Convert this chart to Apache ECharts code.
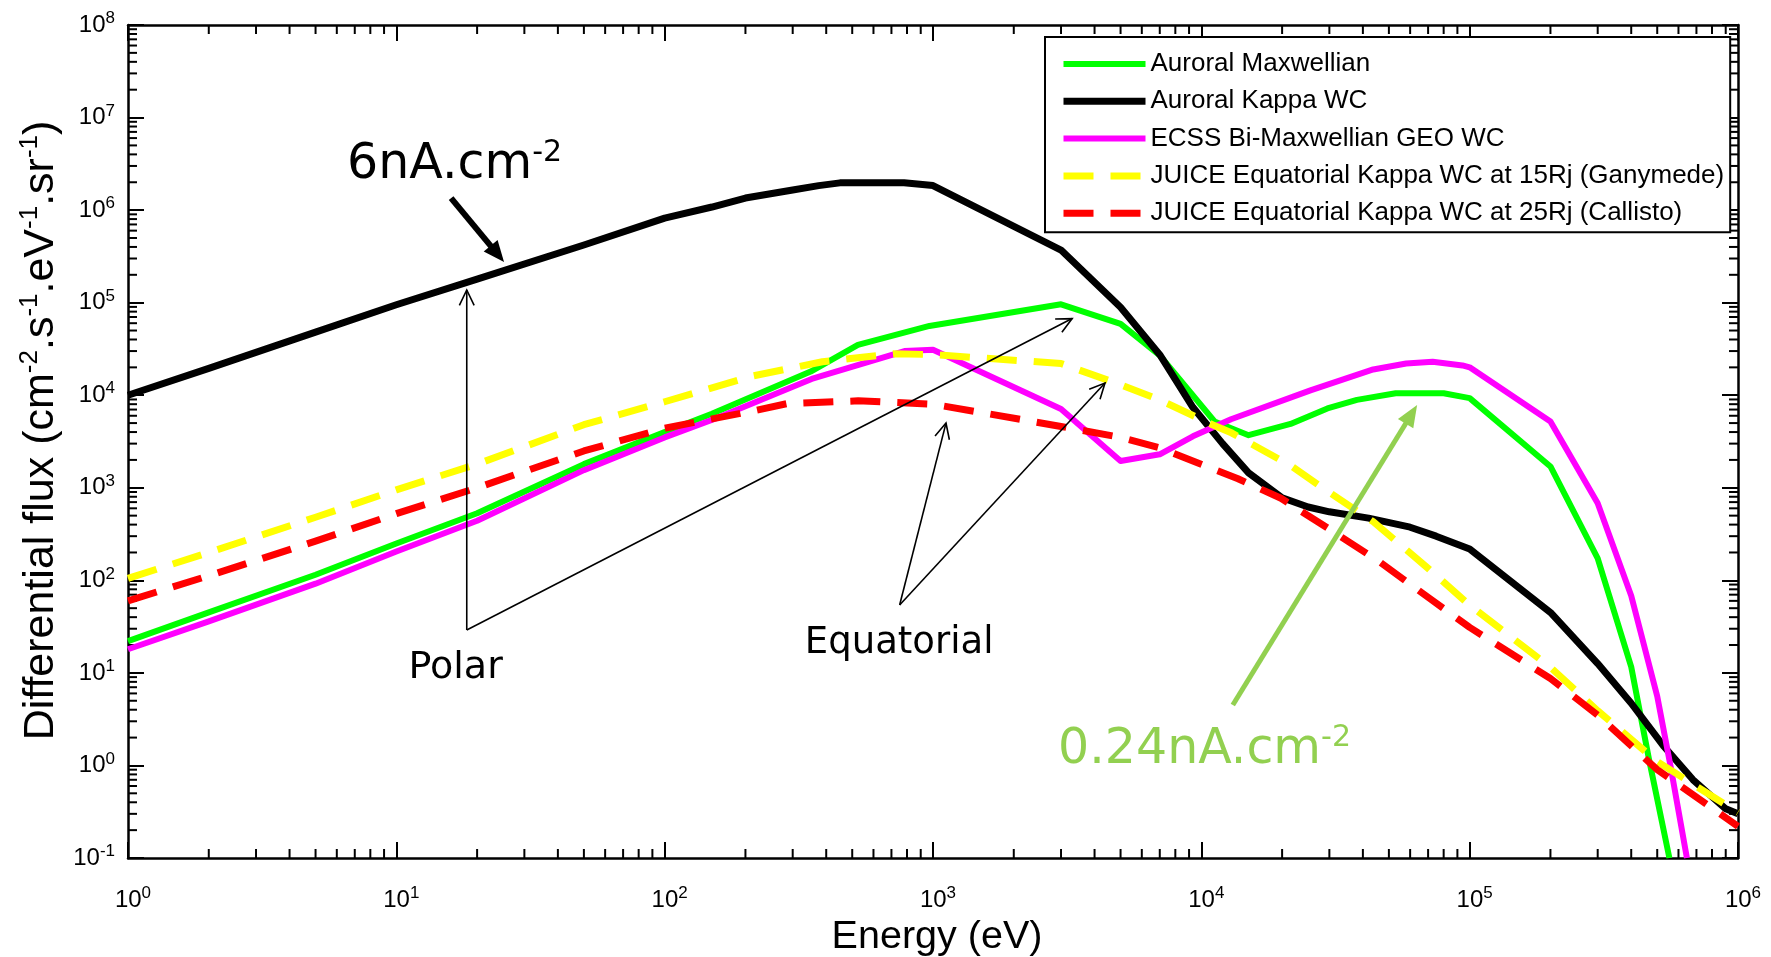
<!DOCTYPE html>
<html><head><meta charset="utf-8">
<script src="https://cdn.jsdelivr.net/npm/echarts@6/dist/echarts.min.js"></script>
<style>html,body{margin:0;padding:0;background:#fff}#c{width:1771px;height:957px}</style>
</head><body><div id="c"></div>
<script>
// ---------- data ----------
const seriesNames = [
  'Auroral Maxwellian',
  'Auroral Kappa WC',
  'ECSS Bi-Maxwellian GEO WC',
  'JUICE Equatorial Kappa WC at 15Rj (Ganymede)',
  'JUICE Equatorial Kappa WC at 25Rj (Callisto)'
];
const seriesColors = ['#00ff00', '#000000', '#ff00ff', '#ffff00', '#ff0000'];

const greenE = [1, 2, 5, 10, 20, 50, 100, 150, 350, 525, 970, 3000, 5000, 7000, 11200, 15000, 21500, 29500, 38000, 53000, 80000, 100000, 200000, 300000, 400000, 465000, 555000];
const greenF = [22, 45, 115, 250, 530, 1800, 4000, 6300, 18000, 35000, 56000, 96000, 59000, 27000, 5200, 3700, 4900, 7200, 8900, 10500, 10500, 9300, 1700, 173, 11.6, 1.2, 0.1];

const blackE = [1, 2, 5, 10, 20, 50, 100, 150, 200, 300, 375, 450, 600, 780, 1000, 3000, 5000, 7000, 9300, 12000, 15000, 20000, 25000, 30000, 42000, 60000, 75000, 100000, 200000, 300000, 400000, 530000, 680000, 900000, 1000000];
const blackF = [1.0e4, 1.95e4, 4.8e4, 9.5e4, 1.8e5, 4.2e5, 8.2e5, 1.08e6, 1.35e6, 1.65e6, 1.84e6, 1.97e6, 1.97e6, 1.97e6, 1.84e6, 3.7e5, 8.9e4, 2.74e4, 7400, 3000, 1450, 780, 620, 550, 470, 375, 300, 218, 45, 12.6, 4.7, 1.6, 0.7, 0.34, 0.3];

const magentaE = [1, 2, 5, 10, 20, 50, 100, 155, 353, 783, 1000, 3000, 5000, 7000, 9300, 12900, 25500, 43700, 58000, 72800, 94000, 100000, 200000, 300000, 400000, 500000, 560000, 645000];
const magentaF = [18, 36, 92, 205, 440, 1550, 3500, 5600, 15000, 30000, 31000, 7100, 1950, 2300, 3600, 5500, 11300, 19000, 22000, 23000, 21000, 20000, 5200, 680, 68, 5.6, 1, 0.1];

const yellowE = [1, 2, 5, 10, 20, 50, 100, 210, 387, 713, 1000, 3000, 5000, 7000, 11000, 13000, 21500, 30000, 43700, 70800, 100000, 200000, 300000, 500000, 1000000];
const yellowF = [105, 200, 480, 950, 1800, 4800, 8500, 16000, 23000, 28000, 27500, 22000, 13000, 8900, 4800, 3900, 1740, 890, 430, 131, 54, 11.5, 3.9, 1.1, 0.31];

const redE = [1, 2, 5, 10, 20, 50, 100, 210, 285, 526, 1000, 3000, 5000, 7000, 13700, 19800, 30000, 46200, 70800, 100000, 200000, 300000, 500000, 1000000];
const redF = [60, 112, 265, 525, 1000, 2500, 4400, 6700, 8100, 8700, 8000, 4600, 3500, 2700, 1250, 770, 357, 158, 64, 31, 8.7, 3.5, 0.9, 0.22];

// axis tick labels (powers of ten)
const xTickExponents = [0, 1, 2, 3, 4, 5, 6];
const yTickExponents = [-1, 0, 1, 2, 3, 4, 5, 6, 7, 8];

// annotation anchors in data coordinates [energy, flux]
const arrow6nA = [[16.0, 1.35e6], [25.2, 2.75e5]];
const polarVertex = [18.3, 29.1];
const polarTips = [[18.3, 1.37e5], [3300, 6.73e4]];
const eqVertex = [751, 54.2];
const eqTips = [[1118, 5.0e3], [4375, 1.355e4]];
const arrowGreen = [[13100, 4.5], [63700, 7.86e3]];
const text6nA = [6.55, 3.07e6];
const textPolar = [11.1, 11.2];
const textEq = [333, 20.7];
const text024 = [2924, 1.45];

// ---------- helpers ----------
const zip = (a, b) => a.map((v, i) => [v, b[i]]);
const xMin = Math.pow(10, xTickExponents[0]), xMax = Math.pow(10, xTickExponents[xTickExponents.length - 1]);
const yMin = Math.pow(10, yTickExponents[0]), yMax = Math.pow(10, yTickExponents[yTickExponents.length - 1]);
// minor (2..9 x decade) tick positions in data space
const minorXE = [], minorYF = [];
for (let d = xTickExponents[0]; d < xTickExponents[xTickExponents.length - 1]; d++)
  for (let k = 2; k <= 9; k++) minorXE.push(k * Math.pow(10, d));
for (let d = yTickExponents[0]; d < yTickExponents[yTickExponents.length - 1]; d++)
  for (let k = 2; k <= 9; k++) minorYF.push(+(k * Math.pow(10, d)).toPrecision(6));

const FONT = 'Liberation Sans';
const supFmt = v => '{b|10}{s|' + Math.round(Math.log10(v)) + '}';
const xRich = {
  b: {fontFamily: FONT, fontSize: 24, lineHeight: 30, color: '#000', padding: [0, 0, 0, 10]},
  s: {fontFamily: FONT, fontSize: 17, lineHeight: 17, verticalAlign: 'top', color: '#000'}
};
const yRich = {
  b: {fontFamily: FONT, fontSize: 24, lineHeight: 30, color: '#000'},
  s: {fontFamily: FONT, fontSize: 17, lineHeight: 17, verticalAlign: 'top', color: '#000'}
};
const axLine = {show: true, onZero: false, lineStyle: {color: '#000', width: 2.5}};
const majTick = {show: true, inside: true, length: 16, lineStyle: {color: '#000', width: 2}};
const hidden = {show: false};
const MINOR_LEN = 9;

const chart = echarts.init(document.getElementById('c'));
const lineDefs = [
  [greenE, greenF, 6, 'solid'],
  [blackE, blackF, 7, 'solid'],
  [magentaE, magentaF, 6, 'solid'],
  [yellowE, yellowF, 7, [30, 17]],
  [redE, redF, 7, [30, 17]]
];

const minorTickStyle = {stroke: '#000', lineWidth: 2};
const series = lineDefs.map((d, i) => ({
  type: 'line', name: seriesNames[i], xAxisIndex: 0, yAxisIndex: 0,
  data: zip(d[0], d[1]), symbol: 'none', showSymbol: false, smooth: false, clip: true,
  lineStyle: {color: seriesColors[i], width: d[2], type: d[3], cap: 'butt', join: 'round'},
  itemStyle: {color: seriesColors[i]},
  z: 2 + i
}));
// minor log ticks on the four frame sides, placed via the axes' own scales
series.push({
  type: 'custom', name: 'minorX', xAxisIndex: 0, yAxisIndex: 0, clip: false, silent: true, z: 1,
  data: minorXE.map(v => [v, yMin]),
  renderItem: (params, api) => {
    const b = api.coord([api.value(0), yMin]), t = api.coord([api.value(0), yMax]);
    return {type: 'group', children: [
      {type: 'line', shape: {x1: b[0], y1: b[1], x2: b[0], y2: b[1] - MINOR_LEN}, style: minorTickStyle},
      {type: 'line', shape: {x1: t[0], y1: t[1], x2: t[0], y2: t[1] + MINOR_LEN}, style: minorTickStyle}
    ]};
  }
});
series.push({
  type: 'custom', name: 'minorY', xAxisIndex: 0, yAxisIndex: 0, clip: false, silent: true, z: 1,
  data: minorYF.map(v => [xMin, v]),
  renderItem: (params, api) => {
    const l = api.coord([xMin, api.value(1)]), r = api.coord([xMax, api.value(1)]);
    return {type: 'group', children: [
      {type: 'line', shape: {x1: l[0], y1: l[1], x2: l[0] + MINOR_LEN, y2: l[1]}, style: minorTickStyle},
      {type: 'line', shape: {x1: r[0], y1: r[1], x2: r[0] - MINOR_LEN, y2: r[1]}, style: minorTickStyle}
    ]};
  }
});

chart.setOption({
  animation: false,
  backgroundColor: '#fff',
  grid: {left: 128, right: 33, top: 25, bottom: 99, containLabel: false, outerBoundsMode: 'none'},
  legend: {
    orient: 'vertical', left: 1045, top: 37,
    itemWidth: 82, itemHeight: 10, itemGap: 9.3,
    padding: [13, 6, 5, 15],
    borderColor: '#000', borderWidth: 2, backgroundColor: '#fff',
    itemStyle: {opacity: 0, borderWidth: 0},
    lineStyle: {width: 'inherit', type: 'inherit'},
    textStyle: {fontFamily: FONT, fontSize: 26, lineHeight: 28, color: '#000'},
    data: seriesNames
  },
  xAxis: [
    {type: 'log', logBase: 10, min: xMin, max: xMax, splitNumber: 6, position: 'bottom',
     axisLine: axLine, axisTick: majTick, splitLine: hidden,
     axisLabel: {margin: 27, formatter: supFmt, rich: xRich},
     name: 'Energy (eV)', nameLocation: 'middle', nameGap: 56,
     nameTextStyle: {fontFamily: FONT, fontSize: 39.5, color: '#000', padding: [0, 0, 0, 8]}},
    {type: 'log', logBase: 10, min: xMin, max: xMax, splitNumber: 6, position: 'top',
     axisLine: axLine, axisTick: majTick, splitLine: hidden, axisLabel: hidden}
  ],
  yAxis: [
    {type: 'log', logBase: 10, min: yMin, max: yMax, splitNumber: 9, position: 'left',
     axisLine: axLine, axisTick: majTick, splitLine: hidden,
     axisLabel: {margin: 13, formatter: supFmt, rich: yRich},
     name: '{n|Differential flux (cm}{s|-2}{m|.s}{s|-1}{m|.eV}{s|-1}{m|.sr}{s|-1}{m|)}',
     nameLocation: 'middle', nameGap: 57, nameRotate: 90,
     nameTextStyle: {rich: {
       n: {fontFamily: FONT, fontSize: 43, lineHeight: 48, color: '#000', padding: [0, 0, 0, 22]},
       m: {fontFamily: FONT, fontSize: 43, lineHeight: 48, color: '#000'},
       s: {fontFamily: FONT, fontSize: 26, lineHeight: 26, verticalAlign: 'top', color: '#000'}
     }}},
    {type: 'log', logBase: 10, min: yMin, max: yMax, splitNumber: 9, position: 'right',
     axisLine: axLine, axisTick: majTick, splitLine: hidden, axisLabel: hidden}
  ],
  series: series
});

// ---------- annotations (positions come from the data scales) ----------
const px = p => chart.convertToPixel({xAxisIndex: 0, yAxisIndex: 0}, p);
const G = [];
function filledArrow(a, b, color, w, hl, hw) {
  const A = px(a), B = px(b);
  const dx = B[0] - A[0], dy = B[1] - A[1], L = Math.hypot(dx, dy);
  const ux = dx / L, uy = dy / L;
  const bx = B[0] - ux * hl, by = B[1] - uy * hl;
  G.push({type: 'line', shape: {x1: A[0], y1: A[1], x2: bx + ux * 2, y2: by + uy * 2},
          style: {stroke: color, lineWidth: w}, z: 100});
  G.push({type: 'polygon', shape: {points: [[B[0], B[1]], [bx - uy * hw, by + ux * hw], [bx + uy * hw, by - ux * hw]]},
          style: {fill: color}, z: 100});
}
function openArrow(a, b, color, w, hl, ang) {
  const A = px(a), B = px(b);
  const dx = B[0] - A[0], dy = B[1] - A[1], L = Math.hypot(dx, dy);
  const ux = dx / L, uy = dy / L;
  G.push({type: 'line', shape: {x1: A[0], y1: A[1], x2: B[0], y2: B[1]}, style: {stroke: color, lineWidth: w}, z: 100});
  const c = Math.cos(ang), s = Math.sin(ang);
  const p1 = [B[0] - hl * (ux * c - uy * s), B[1] - hl * (uy * c + ux * s)];
  const p2 = [B[0] - hl * (ux * c + uy * s), B[1] - hl * (uy * c - ux * s)];
  G.push({type: 'polyline', shape: {points: [p1, [B[0], B[1]], p2]}, style: {stroke: color, lineWidth: w, fill: null}, z: 100});
}
function label(pos, text, rich) {
  const P = px(pos);
  G.push({type: 'text', x: P[0], y: P[1], z: 100,
          style: {text: text, rich: rich, align: 'left', verticalAlign: 'middle'}});
}
const annFont = 'DejaVu Sans';
const bigRich = c => ({
  a: {fontFamily: annFont, fontSize: 49, lineHeight: 54, fill: c, color: c},
  s: {fontFamily: annFont, fontSize: 30, lineHeight: 30, verticalAlign: 'top', fill: c, color: c}
});
filledArrow(arrow6nA[0], arrow6nA[1], '#000', 6, 21, 9);
polarTips.forEach(t => openArrow(polarVertex, t, '#000', 1.6, 17, 0.45));
eqTips.forEach(t => openArrow(eqVertex, t, '#000', 1.6, 17, 0.45));
filledArrow(arrowGreen[0], arrowGreen[1], '#92d050', 5, 22, 9);
label(text6nA, '{a|6nA.cm}{s|-2}', bigRich('#000'));
label(text024, '{a|0.24nA.cm}{s|-2}', bigRich('#92d050'));
label(textPolar, '{a|Polar}', {a: {fontFamily: annFont, fontSize: 38, lineHeight: 42, color: '#000'}});
label(textEq, '{a|Equatorial}', {a: {fontFamily: annFont, fontSize: 37, lineHeight: 42, color: '#000'}});
chart.setOption({graphic: G});
</script></body></html>
